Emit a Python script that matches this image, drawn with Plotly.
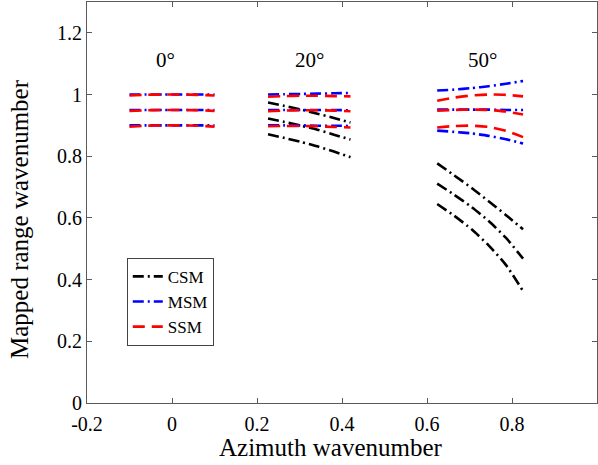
import plotly.graph_objects as go

# ---- data ----
x_0 = [-0.1, -0.06, -0.02, 0.02, 0.06, 0.1]
x_20 = [0.226, 0.265, 0.304, 0.342, 0.381, 0.42]
x_50 = [0.624, 0.664, 0.705, 0.745, 0.786, 0.826]

# MSM (blue dash-dot)
msm_0 = [[1.0, 1.0, 1.0, 1.0, 1.0, 1.0],
         [0.95, 0.95, 0.95, 0.95, 0.95, 0.95],
         [0.9, 0.9, 0.9, 0.9, 0.9, 0.9]]
msm_20 = [[1.000, 1.001, 1.002, 1.003, 1.004, 1.005],
          [0.950, 0.950, 0.950, 0.950, 0.950, 0.949],
          [0.900, 0.900, 0.900, 0.899, 0.899, 0.898]]
msm_50 = [[1.013, 1.016, 1.021, 1.027, 1.035, 1.044],
          [0.951, 0.951, 0.951, 0.951, 0.950, 0.950],
          [0.883, 0.879, 0.874, 0.866, 0.855, 0.841]]

# SSM (red dash)
ssm_0 = [[0.997, 0.999, 1.0, 1.0, 0.999, 0.997],
         [0.947, 0.949, 0.95, 0.95, 0.949, 0.947],
         [0.896, 0.899, 0.9, 0.9, 0.899, 0.896]]
ssm_20 = [[0.993, 0.995, 0.996, 0.996, 0.995, 0.994],
          [0.946, 0.948, 0.949, 0.949, 0.948, 0.946],
          [0.897, 0.898, 0.898, 0.897, 0.895, 0.893]]
ssm_50 = [[0.980, 0.990, 0.997, 1.000, 0.999, 0.994],
          [0.948, 0.950, 0.951, 0.950, 0.945, 0.935],
          [0.893, 0.898, 0.899, 0.895, 0.882, 0.862]]

# CSM (black dash-dot)
csm_20 = [[0.974, 0.963, 0.951, 0.938, 0.924, 0.909],
          [0.922, 0.911, 0.899, 0.886, 0.870, 0.854],
          [0.871, 0.859, 0.846, 0.832, 0.815, 0.797]]
csm_50 = [[0.777, 0.738, 0.697, 0.654, 0.609, 0.563],
          [0.711, 0.675, 0.635, 0.590, 0.535, 0.468],
          [0.645, 0.607, 0.563, 0.511, 0.447, 0.363]]

angle_labels = ["0°", "20°", "50°"]
angle_label_x = [-0.015, 0.324, 0.73]
angle_label_y = [1.112, 1.112, 1.112]

x_tickvals = [-0.2, 0, 0.2, 0.4, 0.6, 0.8, 1.0]
x_ticktext = ["-0.2", "0", "0.2", "0.4", "0.6", "0.8", "1"]
y_tickvals = [0, 0.2, 0.4, 0.6, 0.8, 1.0, 1.2]
y_ticktext = ["0", "0.2", "0.4", "0.6", "0.8", "1", "1.2"]

x_title = "Azimuth wavenumber"
y_title = "Mapped range wavenumber"

FONT = "Liberation Serif, Times New Roman, serif"
DASHDOT = "11px,4px,2px,4px"
DASH = "12px,7px"

fig = go.Figure()

def add_group(name, color, dash, groups):
    first = True
    for xs, ys_list in groups:
        for ys in ys_list:
            fig.add_trace(go.Scatter(
                x=xs, y=ys, mode="lines", name=name,
                showlegend=first, line=dict(color=color, width=2.6, dash=dash,
                                            shape="spline", smoothing=0.6)))
            first = False

add_group("CSM", "black", DASHDOT, [(x_20, csm_20), (x_50, csm_50)])
add_group("MSM", "#0000ff", DASHDOT, [(x_0, msm_0), (x_20, msm_20), (x_50, msm_50)])
add_group("SSM", "#ff0000", DASH, [(x_0, ssm_0), (x_20, ssm_20), (x_50, ssm_50)])

for t, ax, ay in zip(angle_labels, angle_label_x, angle_label_y):
    fig.add_annotation(x=ax, y=ay, text=t, showarrow=False,
                       font=dict(family=FONT, size=21, color="black"))

# axis titles (positioned like the reference)
fig.add_annotation(x=0.478, y=-0.11, xref="paper", yref="paper", text=x_title,
                   showarrow=False, xanchor="center", yanchor="middle",
                   font=dict(family=FONT, size=25, color="black"))
fig.add_annotation(x=-0.132, y=0.458, xref="paper", yref="paper", text=y_title,
                   showarrow=False, xanchor="center", yanchor="middle", textangle=-90,
                   font=dict(family=FONT, size=25, color="black"))

axis_common = dict(showline=True, linecolor="#5a5a5a", linewidth=1, mirror="ticks",
                   ticks="inside", ticklen=5, tickcolor="#5a5a5a",
                   showgrid=False, zeroline=False,
                   tickfont=dict(family=FONT, size=20, color="black"))

fig.update_xaxes(range=[-0.2, 1.0], tickvals=x_tickvals, ticktext=x_ticktext,
                 ticklabelstandoff=3, **axis_common)
fig.update_yaxes(range=[0, 1.3], tickvals=y_tickvals, ticktext=y_ticktext, **axis_common)

fig.update_layout(
    width=598, height=465,
    margin=dict(l=87, r=1, t=2, b=62, autoexpand=False),
    plot_bgcolor="white", paper_bgcolor="white",
    legend=dict(x=0.078, y=0.362, xanchor="left", yanchor="top",
                bgcolor="white", bordercolor="#444", borderwidth=1,
                font=dict(family=FONT, size=17, color="black")),
)

fig.write_html("out.html")
